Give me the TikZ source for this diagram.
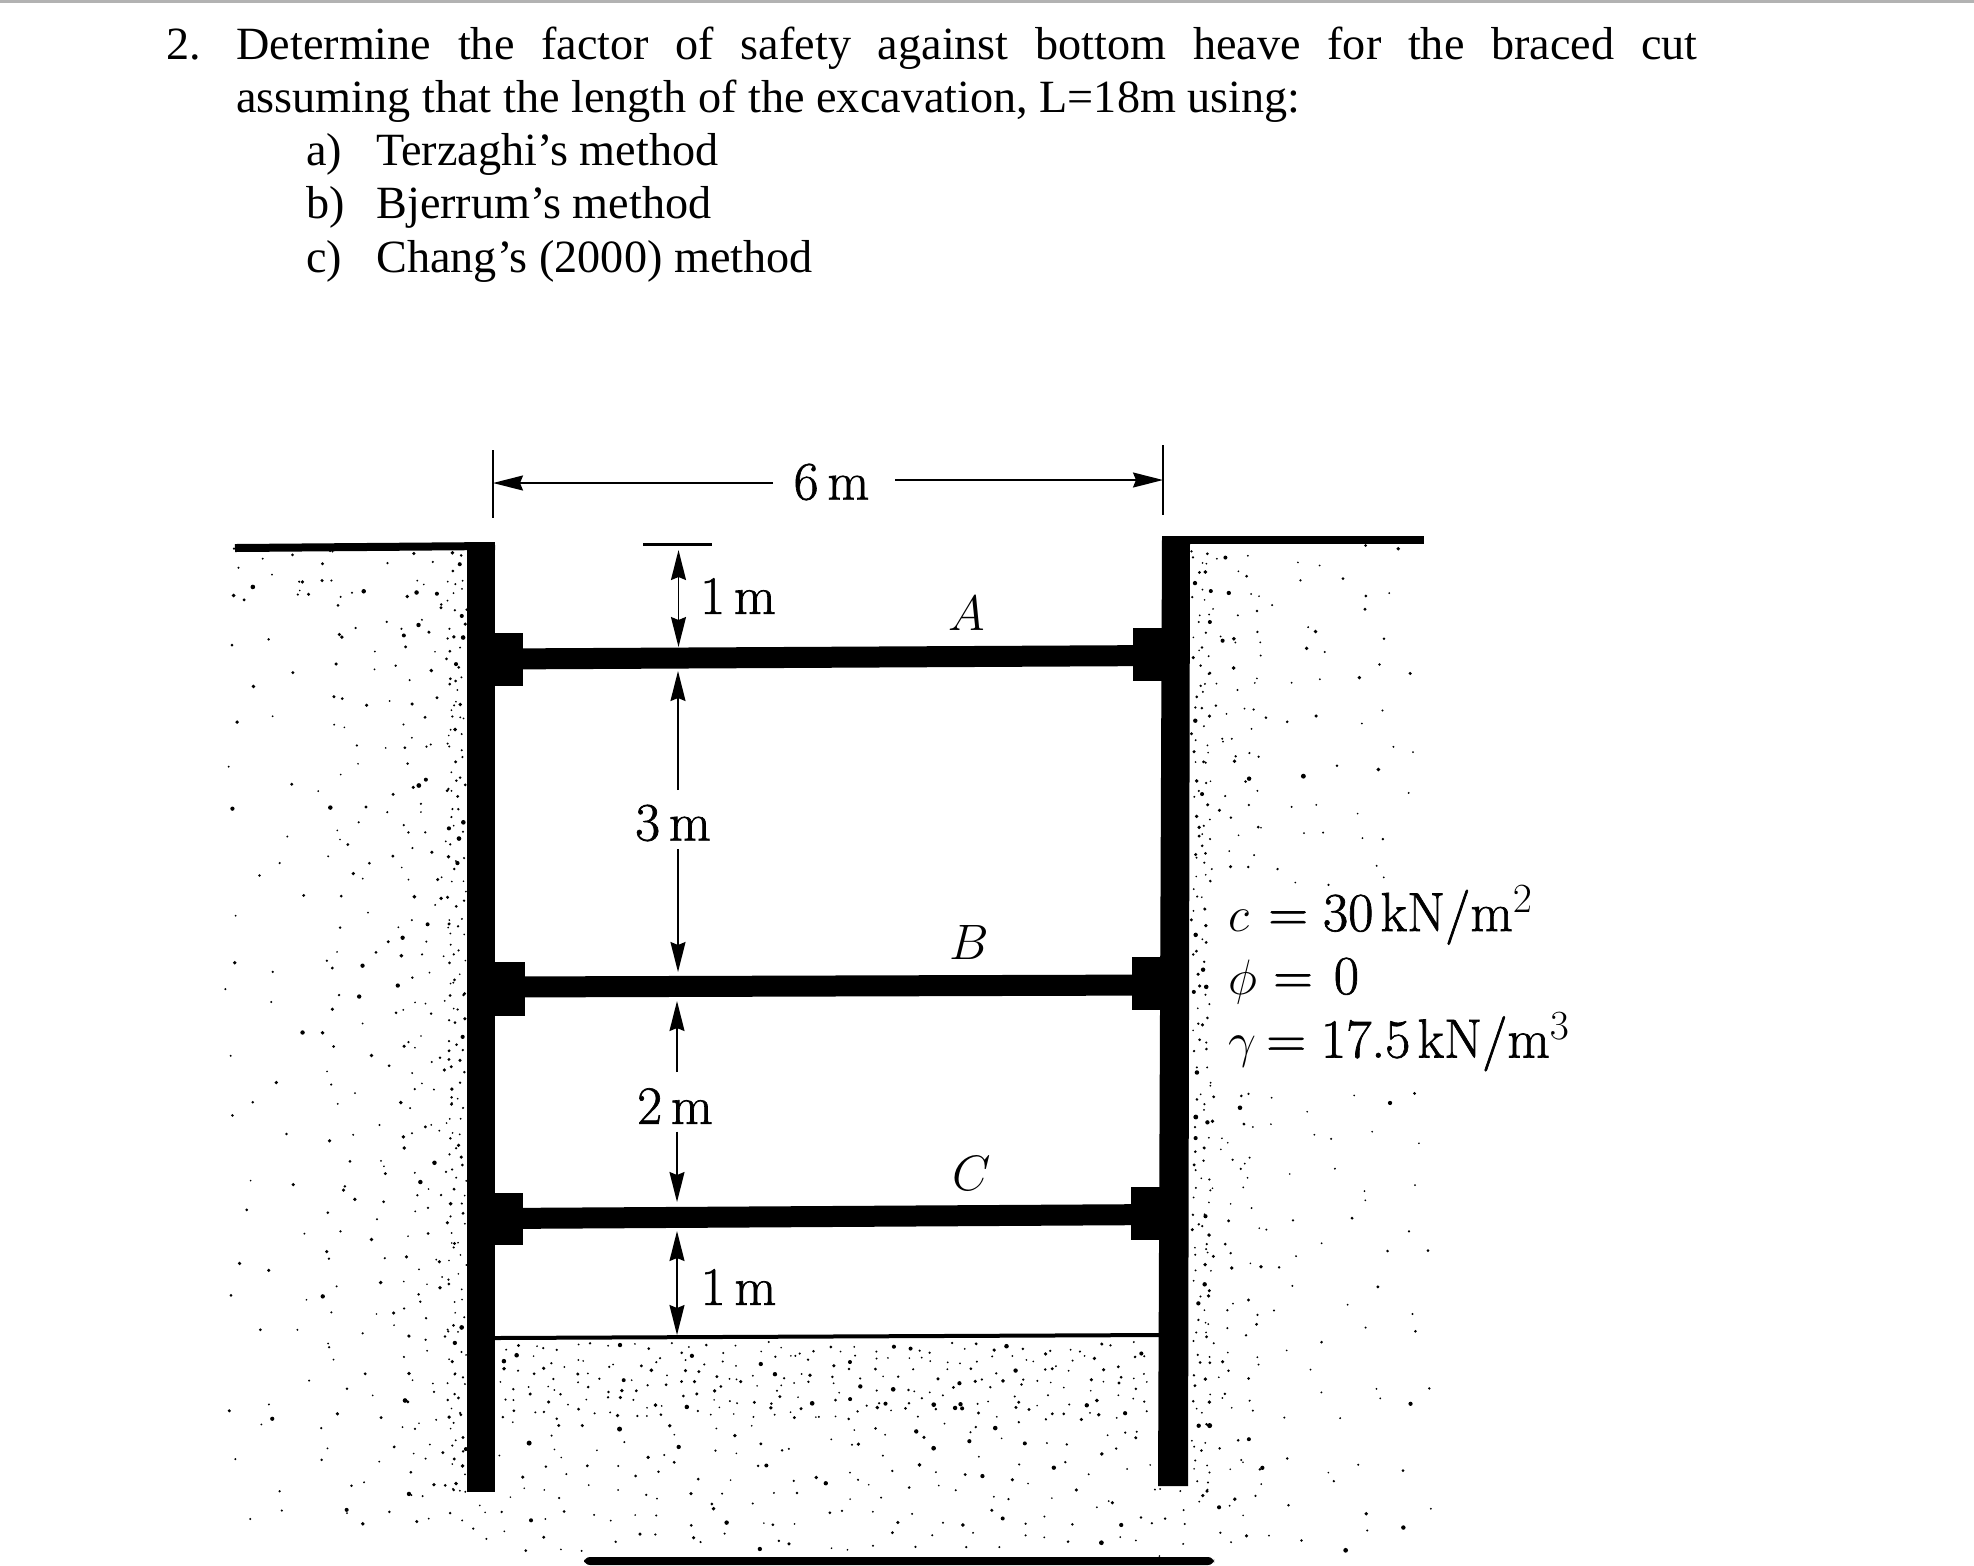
\documentclass[tikz,border=0pt]{standalone}
\usepackage{fontspec}
\usepackage{tikz}
\usetikzlibrary{arrows.meta}
\newfontfamily\headfont{Liberation Serif}
\newfontfamily\figfont[FakeBold=1.2]{Latin Modern Roman}
\newcommand{\soildots}[6]{
	\pgfmathsetmacro{\xnext}{#1+#3}
	\pgfmathsetmacro{\ynext}{#4+#6}
	\foreach \gx in {#1,\xnext,...,#2}{
		\foreach \gy in {#4,\ynext,...,#5}{
			\pgfmathsetmacro{\px}{\gx+(rnd-0.5)*0.95*#3}
			\pgfmathsetmacro{\py}{\gy+(rnd-0.5)*0.95*#6}
			\pgfmathsetmacro{\pr}{0.45+0.85*rnd*rnd}
			\fill (\px,\py) circle[radius=\pr pt];
		}
	}
}
\begin{document}
\begin{tikzpicture}[x=0.5pt,y=-0.5pt]
		\tikzstyle{head_style} = [font=\headfont\fontsize{23.1}{27}\selectfont,inner sep=0pt,anchor=base west]
		\tikzstyle{dim_label} = [font=\figfont\fontsize{27}{32}\selectfont,inner sep=0pt]
		\tikzstyle{name_label} = [font=\fontsize{25}{30}\selectfont,inner sep=0pt]
		\tikzstyle{soil_label} = [font=\figfont\fontsize{27.5}{33}\selectfont,inner sep=0pt,anchor=base west]
		\tikzstyle{strut_style} = [draw=black,line width=10.5pt]
		\tikzstyle{ground_style} = [draw=black,line width=4pt]
		\tikzstyle{tick_style} = [draw=black,line width=1.2pt]
		\tikzstyle{dim_style} = [draw=black,line width=0.9pt,-{Stealth[length=15pt,width=7.5pt,inset=1.5pt]}]
		\useasboundingbox (0,0) rectangle (1974,1565);
		\fill[white] (0,0) rectangle (1974,1565);
		\draw[draw=black!30,line width=1.2pt] (0,1.5) -- (1974,1.5);
		\fill[rounded corners=3pt] (584,1557) rectangle (1214,1565);
		\node[head_style] (q_num) at (166,59) {2.};
		\node[head_style] (q_line1) at (236,59) {\makebox[730.5pt][s]{Determine the factor of safety against bottom heave for the braced cut}};
		\node[head_style] (q_line2) at (236,112.5) {assuming that the length of the excavation, L=18m using:};
		\node[head_style] (a_mark) at (306,165.5) {a)};
		\node[head_style] (a_text) at (376,165.5) {Terzaghi’s method};
		\node[head_style] (b_mark) at (306,218.5) {b)};
		\node[head_style] (b_text) at (376,218.5) {Bjerrum’s method};
		\node[head_style] (c_mark) at (306,272) {c)};
		\node[head_style] (c_text) at (376,272) {Chang’s (2000) method};
		\pgfmathsetseed{41}
		\soildots{452}{466}{10}{556}{1500}{12}
		\soildots{410}{450}{19}{556}{1520}{20}
		\soildots{340}{408}{28}{556}{1530}{30}
		\soildots{245}{338}{42}{600}{1545}{44}
		\soildots{240}{340}{24}{556}{600}{18}
		\soildots{1196}{1210}{10}{550}{1500}{12}
		\soildots{1214}{1260}{19}{550}{880}{20}
		\soildots{1214}{1260}{19}{1095}{1545}{20}
		\soildots{1262}{1410}{34}{550}{880}{36}
		\soildots{1262}{1440}{38}{1095}{1545}{40}
		\soildots{500}{1156}{15}{1348}{1420}{13}
		\soildots{500}{1156}{23}{1425}{1550}{23}
		\soildots{470}{495}{18}{1500}{1550}{18}
		\soildots{1160}{1190}{18}{1495}{1550}{18}
		\coordinate (gl_a) at (235,548);
		\coordinate (gl_b) at (495,546);
		\coordinate (gr_a) at (1162,540);
		\coordinate (gr_b) at (1424,540);
		\draw[ground_style] (gl_a) -- (gl_b);
		\draw[ground_style] (gr_a) -- (gr_b);
		\fill (467,544) rectangle (495,1492);
		\fill (1162,536) -- (1190,536) -- (1188,1486) -- (1158,1486) -- cycle;
		\fill (495,633) rectangle (523,686);
		\fill (495,962) rectangle (525,1016);
		\fill (495,1193) rectangle (523,1245);
		\fill (1133,628) rectangle (1164,681);
		\fill (1132,957) rectangle (1164,1010);
		\fill (1131,1187) rectangle (1164,1240);
		\coordinate (a_l) at (495,659);
		\coordinate (a_r) at (1162,655.5);
		\coordinate (b_l) at (495,987);
		\coordinate (b_r) at (1162,985);
		\coordinate (c_l) at (495,1218.5);
		\coordinate (c_r) at (1162,1214.5);
		\draw[strut_style] (a_l) -- (a_r);
		\draw[strut_style] (b_l) -- (b_r);
		\draw[strut_style] (c_l) -- (c_r);
		\coordinate (base_l) at (495,1338);
		\coordinate (base_r) at (1160,1335);
		\draw[draw=black,line width=2pt] (base_l) -- (base_r);
		\node[dim_label] (lbl_6m) at (831.5,482) {6\hspace{4.5pt}m};
		\node[dim_label] (lbl_a1) at (738,596) {1\hspace{4.5pt}m};
		\node[dim_label] (lbl_3m) at (673,823) {3\hspace{4.5pt}m};
		\node[dim_label] (lbl_2m) at (675,1106) {2\hspace{4.5pt}m};
		\node[dim_label] (lbl_a2) at (738.5,1287) {1\hspace{4.5pt}m};
		\node[name_label] (lbl_A) at (967,613) {$A$};
		\node[name_label] (lbl_B) at (969,942) {$B$};
		\node[name_label] (lbl_C) at (972,1173) {$C$};
		\coordinate (tl_a) at (493,450);
		\coordinate (tl_b) at (493,518);
		\coordinate (tr_a) at (1163,445);
		\coordinate (tr_b) at (1163,515);
		\draw[tick_style] (tl_a) -- (tl_b);
		\draw[tick_style] (tr_a) -- (tr_b);
		\coordinate (d6_l) at (773,483);
		\coordinate (d6_le) at (493,483);
		\coordinate (d6_r) at (895,480);
		\coordinate (d6_re) at (1163,480);
		\draw[dim_style] (d6_l) -- (d6_le);
		\draw[dim_style] (d6_r) -- (d6_re);
		\coordinate (top_a) at (643,544.5);
		\coordinate (top_b) at (712,544.5);
		\draw[tick_style] (top_a) -- (top_b);
		\coordinate (d1_m) at (678.5,598);
		\coordinate (d1_t) at (678.5,550);
		\coordinate (d1_b) at (678.5,647);
		\draw[dim_style] (d1_m) -- (d1_t);
		\draw[dim_style] (d1_m) -- (d1_b);
		\coordinate (d3_t) at (678,671);
		\coordinate (d3_a) at (678,790);
		\coordinate (d3_b) at (678,849);
		\coordinate (d3_e) at (678,972);
		\draw[dim_style] (d3_a) -- (d3_t);
		\draw[dim_style] (d3_b) -- (d3_e);
		\coordinate (d2_t) at (677,1001);
		\coordinate (d2_a) at (677,1072);
		\coordinate (d2_b) at (677,1131.5);
		\coordinate (d2_e) at (677,1202);
		\draw[dim_style] (d2_a) -- (d2_t);
		\draw[dim_style] (d2_b) -- (d2_e);
		\coordinate (d4_m) at (677,1282);
		\coordinate (d4_t) at (677,1231);
		\coordinate (d4_b) at (677,1335);
		\draw[dim_style] (d4_m) -- (d4_t);
		\draw[dim_style] (d4_m) -- (d4_b);
		\node[soil_label] (soil_c) at (1228,931) {$c$\hspace{9.5pt}=\hspace{7.5pt}30\hspace{3.5pt}kN/m$^2$};
		\node[soil_label] (soil_phi) at (1228,994) {$\phi$\hspace{8pt}=\hspace{10.5pt}0};
		\node[soil_label] (soil_gamma) at (1228,1057.5) {$\gamma$\hspace{5pt}=\hspace{7.5pt}17.5\hspace{3.5pt}kN/m$^3$};
\end{tikzpicture}
\end{document}
